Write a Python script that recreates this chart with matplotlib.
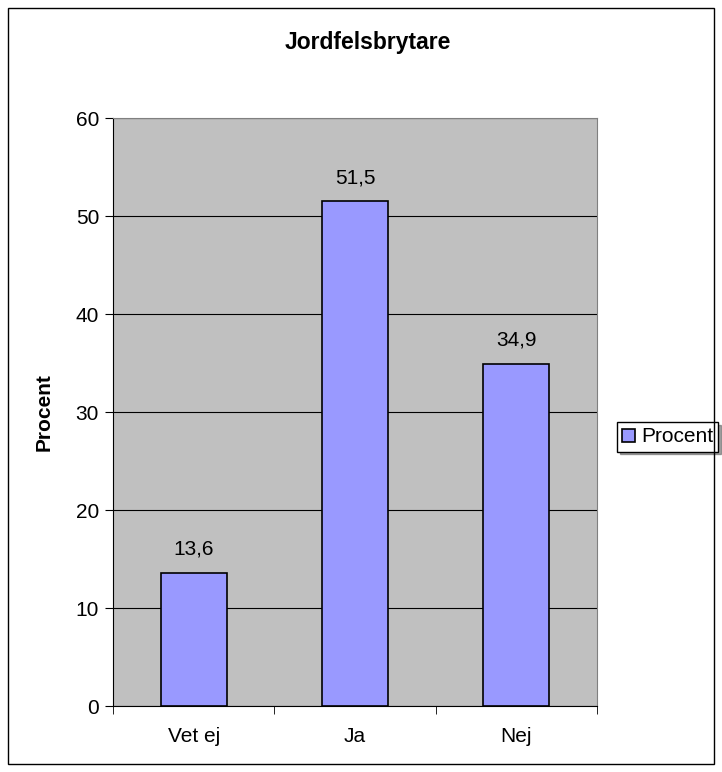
import matplotlib
matplotlib.use("Agg")
import matplotlib.pyplot as plt
from matplotlib.patches import Rectangle
import numpy as np

categories = ["Vet ej", "Ja", "Nej"]
values = [13.6, 51.5, 34.9]
labels = ["13,6", "51,5", "34,9"]
yticks = [0, 10, 20, 30, 40, 50, 60]

plt.rcParams['font.family'] = ['Liberation Sans', 'DejaVu Sans']

fig = plt.figure(figsize=(7.22, 7.72), dpi=100)
fig.patches.append(Rectangle((8/722, 8/772), 1 - 16/722, 1 - 16/772,
                             transform=fig.transFigure, fill=False,
                             edgecolor='black', linewidth=1))

ax = fig.add_axes([113/722, 66/772, 484/722, 588/772])
ax.set_facecolor('#c0c0c0')

x = np.arange(len(categories))
ax.bar(x, values, width=0.41, color='#9999ff', edgecolor='black',
       linewidth=1.2, label='Procent', zorder=3)

for xi, v, lab in zip(x, values, labels):
    ax.text(xi, v + 1.85, lab, ha='center', va='baseline', fontsize=15)

ax.set_xlim(-0.5, 2.5)
ax.set_ylim(0, 60)
ax.set_yticks(yticks)
ax.tick_params(axis='y', labelsize=15, length=6, direction='out', pad=4)
ax.yaxis.grid(True, color='black', linewidth=0.8, zorder=0)
ax.set_axisbelow(True)

ax.set_xticks(x)
ax.set_xticklabels(categories, fontsize=15)
ax.set_xticks([-0.5, 0.5, 1.5, 2.5], minor=True)
ax.tick_params(axis='x', which='major', length=0, pad=15)
ax.tick_params(axis='x', which='minor', length=6, direction='out')

for side in ['top', 'right']:
    ax.spines[side].set_color('#808080')
for side in ['left', 'bottom']:
    ax.spines[side].set_color('black')

ax.set_ylabel('Procent', fontsize=15, fontweight='bold')
ax.yaxis.set_label_coords((54 - 113) / 484, 0.5)
fig.text(368/722, 1 - 43/772, 'Jordfelsbrytare',
         ha='center', va='center', fontsize=16.5, fontweight='bold')

leg = ax.legend(loc='center left', bbox_to_anchor=(617/722, 1 - 437/772),
                bbox_transform=fig.transFigure, fontsize=15, frameon=True,
                fancybox=False, shadow=True, borderpad=0.25, borderaxespad=0,
                handlelength=0.6, handleheight=0.6, handletextpad=0.3)
leg.get_frame().set_edgecolor('black')
leg.get_frame().set_linewidth(1)

fig.savefig('out.png', dpi=100)
